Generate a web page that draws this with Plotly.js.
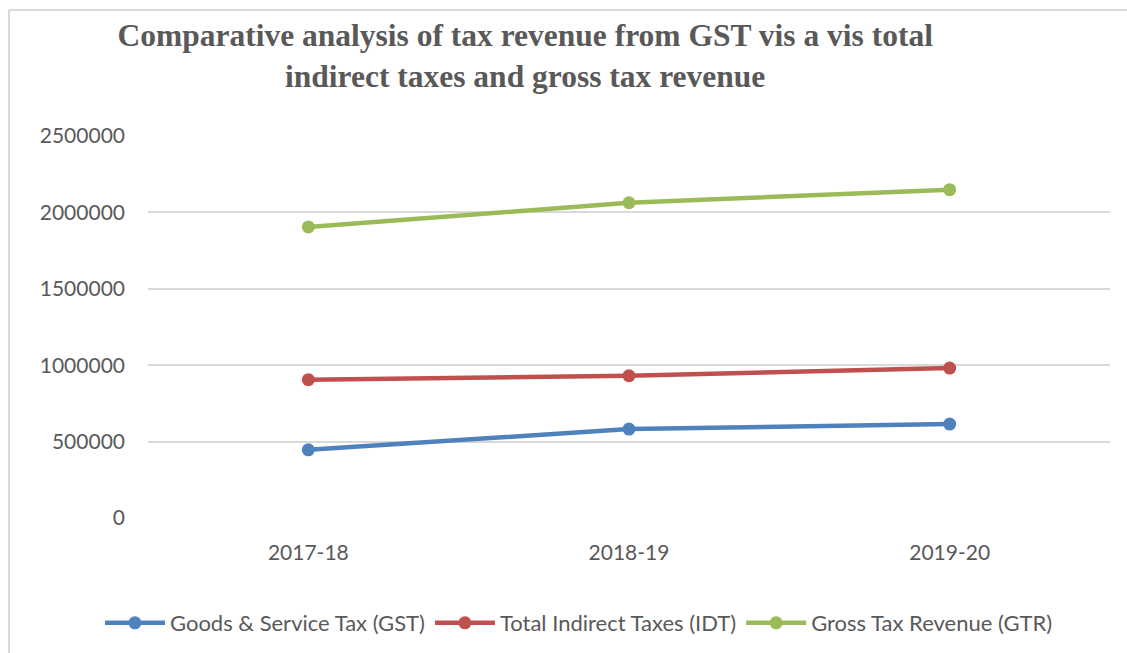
<!DOCTYPE html>
<html>
<head>
<meta charset="utf-8">
<script src="https://cdn.plot.ly/plotly-3.0.1.min.js"></script>
<style>html,body{margin:0;padding:0;background:#fff;} #chart{width:1127px;height:653px;}</style>
</head>
<body>
<div id="chart"></div>
<script>
var years = ["2017-18", "2018-19", "2019-20"];
var gst = [446000, 582000, 615000];
var idt = [905000, 931000, 981000];
var gtr = [1905000, 2063000, 2149000];
var seriesNames = ["Goods & Service Tax (GST)", "Total Indirect Taxes (IDT)", "Gross Tax Revenue (GTR)"];
var yTicks = [0, 500000, 1000000, 1500000, 2000000, 2500000];

var colors = ["#4f81bd", "#c0504d", "#9bbb59"];
var series = [gst, idt, gtr];
var traces = series.map(function (vals, i) {
  return {
    type: "scatter", mode: "lines+markers",
    x: years, y: vals, name: seriesNames[i],
    line: {color: colors[i], width: 4.5},
    marker: {color: colors[i], size: 13}
  };
});

var layout = {
  width: 1127, height: 653,
  paper_bgcolor: "#fff", plot_bgcolor: "#fff",
  margin: {l: 148, r: 17, t: 136, b: 135, autoexpand: false},
  title: {
    text: "Comparative analysis of tax revenue from GST vis a vis total<br>indirect taxes and gross tax revenue",
    font: {family: "Liberation Serif, serif", size: 31.5, color: "#595959", weight: "bold"},
    x: 0.466, xref: "container", xanchor: "center",
    y: 0.93, yref: "container", yanchor: "middle"
  },
  xaxis: {
    type: "category", range: [-0.5, 2.5],
    showgrid: false, showline: false, zeroline: false, ticks: "",
    tickfont: {family: "Lato, sans-serif", size: 21, color: "#595959"},
    ticklabelstandoff: 20
  },
  yaxis: {
    range: [0, 2500000], tickvals: yTicks, ticktext: yTicks.map(String),
    showgrid: true, gridcolor: "#d9d9d9", gridwidth: 1.5,
    zeroline: false, showline: false, ticks: "",
    tickfont: {family: "Lato, sans-serif", size: 21, color: "#595959"},
    ticklabelstandoff: 22
  },
  showlegend: true,
  legend: {
    orientation: "h", x: 0.448, xanchor: "center", y: -0.275, yanchor: "middle",
    font: {family: "Lato, sans-serif", size: 22, color: "#595959"},
    itemwidth: 60
  },
  shapes: [
    {type: "line", xref: "paper", yref: "paper", x0: -0.1445, x1: -0.1445, y0: -0.36, y1: 1.3298, line: {color: "#d9d9d9", width: 2}},
    {type: "line", xref: "paper", yref: "paper", x0: -0.1445, x1: 1.02, y0: 1.3298, y1: 1.3298, line: {color: "#d9d9d9", width: 2}}
  ]
};

Plotly.newPlot("chart", traces, layout, {displayModeBar: false, responsive: false});
</script>
</body>
</html>
